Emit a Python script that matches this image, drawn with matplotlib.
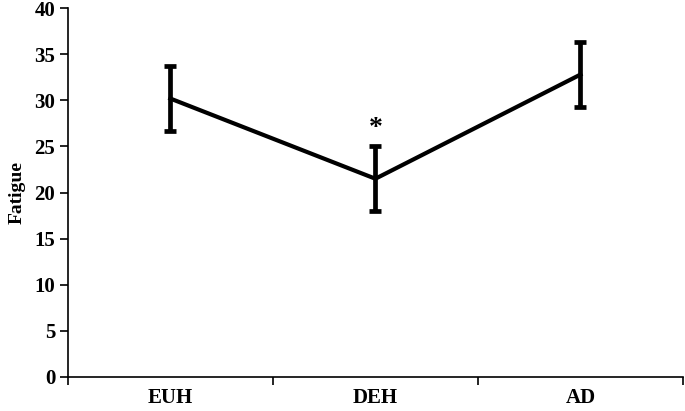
import matplotlib
matplotlib.use('Agg')
import matplotlib.pyplot as plt

# values
groups = ['EUH', 'DEH', 'AD']
fatigue = [30.2, 21.5, 32.8]
err = [3.5, 3.5, 3.5]
yticks = [0, 5, 10, 15, 20, 25, 30, 35, 40]
star_group = 1  # DEH is marked with *
star_y = 27.0

plt.rcParams['font.family'] = ['Liberation Serif', 'DejaVu Serif']
plt.rcParams['font.weight'] = 'bold'

fig = plt.figure(figsize=(6.85, 4.11), dpi=100)
ax = fig.add_axes([0.099, 0.083, 0.898, 0.897])

xpos = [i + 0.5 for i in range(len(groups))]
ax.errorbar(xpos, fatigue, yerr=err, color='black', lw=3,
            elinewidth=3.4, capsize=4, capthick=3.4)
ax.text(xpos[star_group], star_y, '*', ha='center', va='center',
        fontsize=20, fontweight='bold')

ax.set_xlim(0, 3)
ax.set_ylim(0, 40)
ax.set_yticks(yticks)
ax.set_xticks(xpos)
ax.set_xticklabels(groups)
ax.set_xticks([0, 1, 2, 3], minor=True)
ax.tick_params(axis='x', which='major', length=0, pad=8, labelsize=15)
ax.tick_params(axis='x', which='minor', length=6, width=1.2)
ax.tick_params(axis='y', length=6, width=1.2, labelsize=15, pad=3)
ax.set_ylabel('Fatigue', fontsize=14, fontweight='bold', labelpad=6)

for s in ['top', 'right']:
    ax.spines[s].set_visible(False)
ax.spines['left'].set_linewidth(1.2)
ax.spines['bottom'].set_linewidth(1.2)

fig.savefig('out.png', dpi=100)
